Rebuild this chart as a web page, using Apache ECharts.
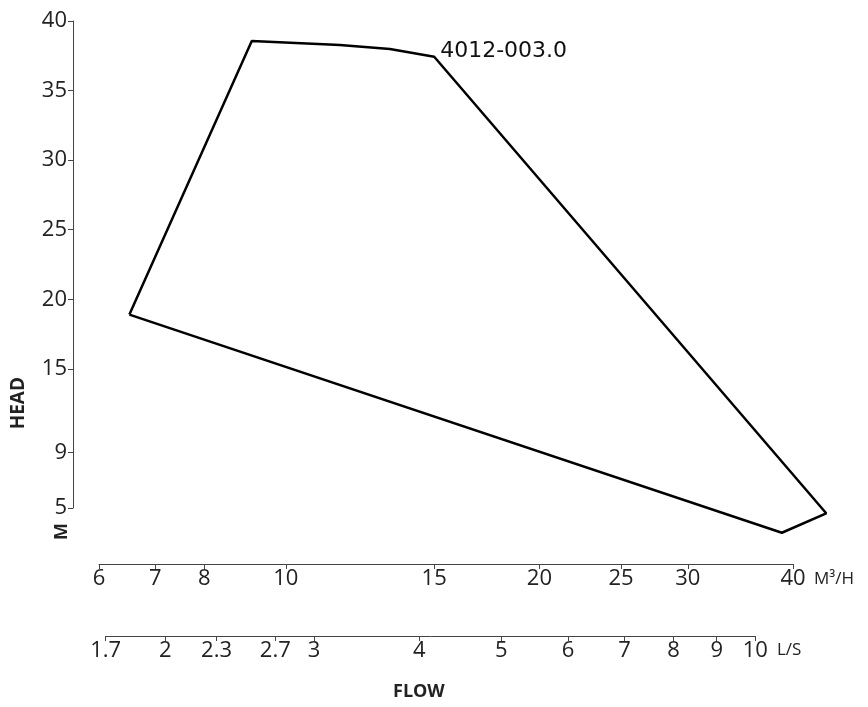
<!DOCTYPE html>
<html>
<head>
<meta charset="utf-8">
<script src="https://cdn.jsdelivr.net/npm/echarts@6/dist/echarts.min.js"></script>
<style>
  html, body { margin: 0; padding: 0; background: #fff; }
  #chart { width: 868px; height: 707px; }
</style>
</head>
<body>
<div id="chart"></div>
<script>
// envelope of the pump curve, flow in m3/h, head in m
const flowM3h = [6.52, 9.11, 11.59, 13.29, 15.0, 43.8, 38.8, 6.52]
const headM = [18.9, 38.56, 38.27, 37.99, 37.43, 4.62, 3.22, 18.9]
const curveName = '4012-003.0'
const labelIndex = 4 // vertex that carries the curve name

const headTicks = [5, 9, 15, 20, 25, 30, 35, 40]
const flowM3hTicks = [6, 7, 8, 10, 15, 20, 25, 30, 40]
const flowLsTicks = [1.7, 2, 2.3, 2.7, 3, 4, 5, 6, 7, 8, 9, 10]

const font = '"Open Sans", "DejaVu Sans", sans-serif'
const textColor = '#222'
const lineColor = '#444'

const chart = echarts.init(document.getElementById('chart'))

const axisCommon = {
  axisLine: { show: true, lineStyle: { color: lineColor, width: 1 } },
  axisTick: { show: true, length: 5, lineStyle: { color: lineColor } },
  splitLine: { show: false },
  minorTick: { show: false }
}
const tickFont = { color: textColor, fontFamily: font, fontSize: 22 }

// the curve runs past 40 m3/h, so it sits on a hidden twin of the flow axis
// that keeps the same px per decade but goes on to 45
const plotLeft = 99
const plotWidth = 694
const curveMax = 45
const curveWidth = plotWidth * Math.log(curveMax / 6) / Math.log(40 / 6)

const option = {
  animation: false,
  backgroundColor: '#fff',
  grid: [
    { left: plotLeft, width: plotWidth, top: 21, bottom: 199, outerBoundsMode: 'none' },
    { left: 105.7, right: 112.7, top: 600, bottom: 71, outerBoundsMode: 'none' },
    { left: plotLeft, width: curveWidth, top: 21, bottom: 199, outerBoundsMode: 'none' }
  ],
  xAxis: [
    {
      ...axisCommon,
      gridIndex: 0,
      type: 'log',
      min: 6,
      max: 40,
      offset: 56,
      axisTick: { ...axisCommon.axisTick, customValues: flowM3hTicks },
      axisLabel: { ...tickFont, customValues: flowM3hTicks, margin: 4 }
    },
    {
      ...axisCommon,
      gridIndex: 1,
      type: 'log',
      min: 1.7,
      max: 10,
      axisTick: { ...axisCommon.axisTick, customValues: flowLsTicks },
      axisLabel: { ...tickFont, customValues: flowLsTicks, margin: 4 }
    },
    { gridIndex: 2, type: 'log', min: 6, max: curveMax, show: false }
  ],
  yAxis: [
    {
      ...axisCommon,
      gridIndex: 0,
      type: 'value',
      min: 5,
      max: 40,
      offset: 26,
      axisTick: { ...axisCommon.axisTick, customValues: headTicks },
      axisLabel: { ...tickFont, customValues: headTicks, margin: 6 }
    },
    { gridIndex: 1, type: 'value', show: false },
    { gridIndex: 2, type: 'value', min: 5, max: 40, show: false }
  ],
  graphic: [
    { type: 'text', left: 814, top: 571, style: { text: 'M³/H', fill: textColor, font: '17px ' + font } },
    { type: 'text', left: 777, top: 642, style: { text: 'L/S', fill: textColor, font: '17px ' + font } },
    { type: 'text', left: 393, top: 683, style: { text: 'FLOW', fill: textColor, font: 'bold 18px ' + font } },
    { type: 'text', left: 9, top: 377, rotation: Math.PI / 2, style: { text: 'HEAD', fill: textColor, font: 'bold 19px ' + font } },
    { type: 'text', left: 53, top: 523, rotation: Math.PI / 2, style: { text: 'M', fill: textColor, font: 'bold 18px ' + font } }
  ],
  series: [
    {
      type: 'line',
      xAxisIndex: 2,
      yAxisIndex: 2,
      clip: false,
      symbol: 'circle',
      symbolSize: 0,
      showSymbol: true,
      silent: true,
      lineStyle: { color: '#000', width: 2.5 },
      data: flowM3h.map((x, i) => {
        const item = { value: [x, headM[i]] }
        if (i === labelIndex) {
          item.label = {
            show: true,
            formatter: curveName,
            position: 'right',
            distance: 6,
            offset: [0, -5],
            color: '#111',
            fontFamily: '"DejaVu Sans", sans-serif',
            fontSize: 22
          }
        }
        return item
      })
    }
  ]
}

chart.setOption(option)
</script>
</body>
</html>
